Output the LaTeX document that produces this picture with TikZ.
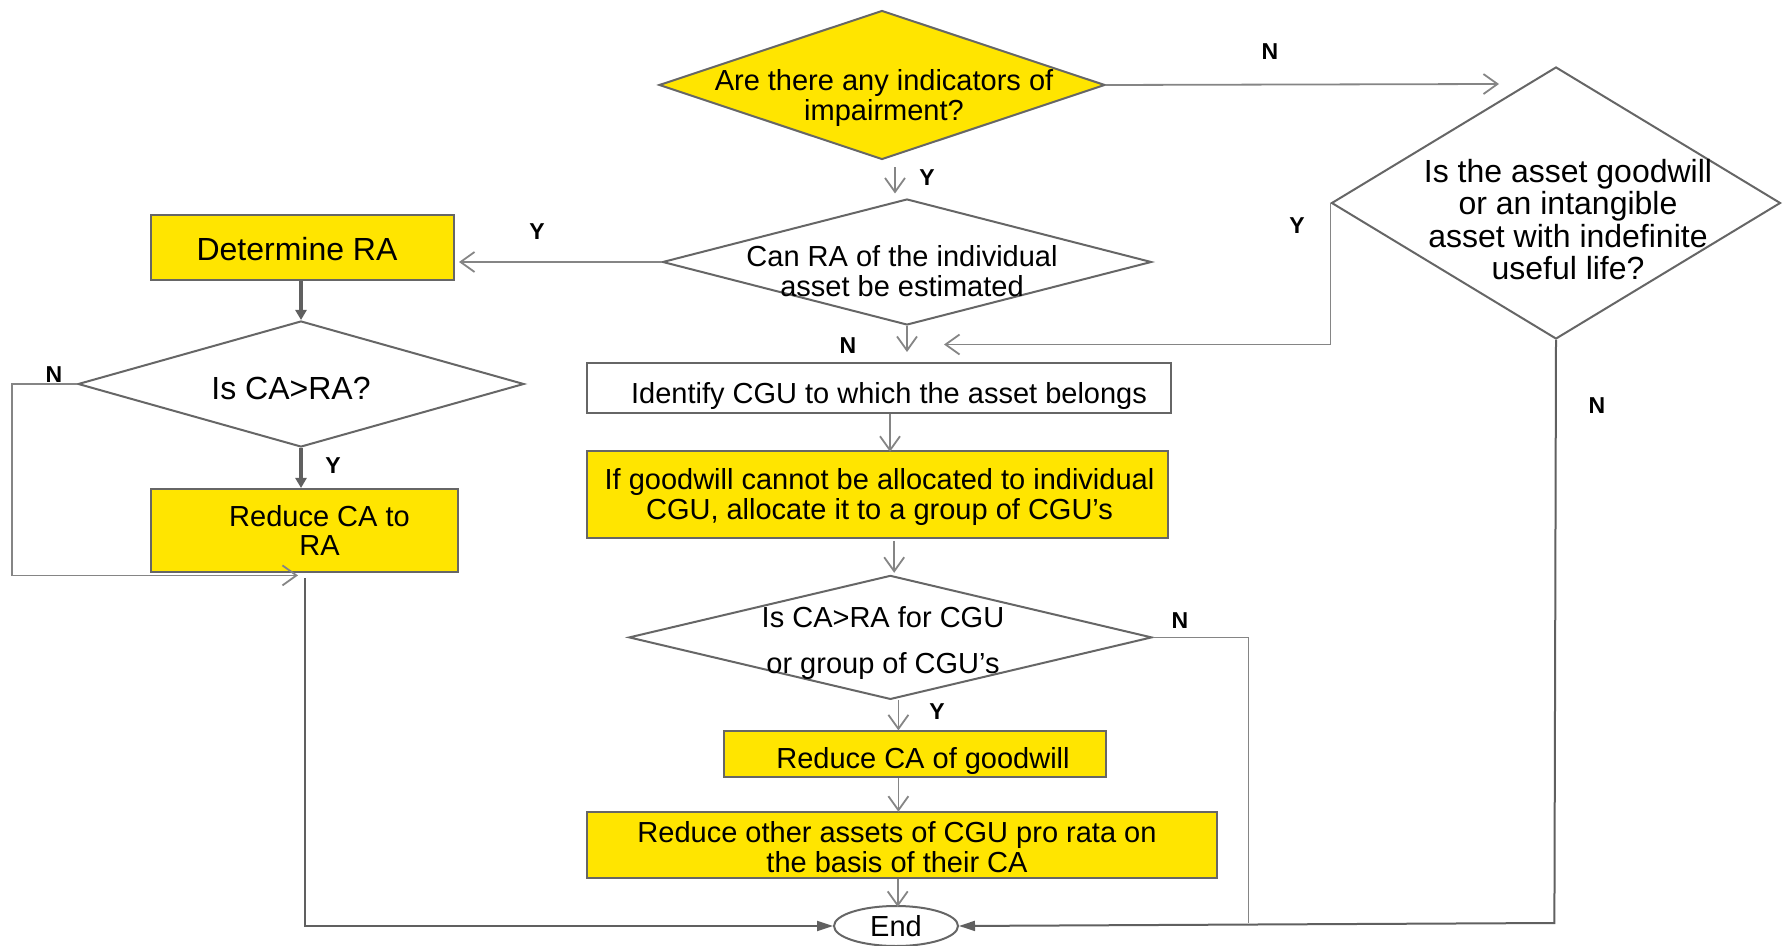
\documentclass[tikz,border=0pt]{standalone}
\usepackage{fontspec}
\setmainfont{Liberation Sans}
\usetikzlibrary{shapes.geometric,arrows.meta,calc}
\definecolor{yel}{HTML}{FFE500}
\definecolor{bord}{HTML}{666666}
\definecolor{ln}{HTML}{858585}
\definecolor{dk}{HTML}{606060}
\tikzset{
 box/.style={draw=bord, line width=1pt, inner sep=0pt, fill=white},
 ybox/.style={box, fill=yel},
 dia/.style={diamond, draw=bord, line width=1pt, inner sep=0pt, fill=white},
 txt/.style={align=center, font=\fontsize{14.5}{14.8}\selectfont, inner sep=0pt},
 btxt/.style={align=center, font=\fontsize{16}{16.3}\selectfont, inner sep=0pt},
 lab/.style={font=\fontsize{11.5}{13}\selectfont\bfseries, inner sep=0pt},
 conn/.style={draw=ln, line width=0.9pt},
 oarrow/.style={conn, -{Straight Barb[length=7pt,width=10pt]}},
 farrow/.style={draw=dk, line width=1pt, -{Triangle[length=8pt,width=5pt]}},
 tarrow/.style={draw=dk, line width=1.6pt, -{Triangle[length=5pt,width=5.5pt]}},
}
\begin{document}
\begin{tikzpicture}[x=0.5pt,y=-0.5pt]
\useasboundingbox (0,0) rectangle (1783,946);

% shapes
\node[dia, fill=yel, minimum width=223pt, minimum height=74.5pt] (d1) at (882,85) {};
\node[txt] (t1) at (884,98) {Are there any indicators of\\impairment?};

\node[dia, minimum width=244.5pt, minimum height=63pt] (d2) at (907,262) {};
\node[txt] (t2) at (902,271) {Can RA of the individual\\asset be estimated};

\node[ybox, minimum width=151.5pt, minimum height=32.5pt] (ra) at (302.5,247.5) {};
\node[btxt] (tra) at (297,249) {Determine RA};

\node[dia, minimum width=223pt, minimum height=63pt] (d3) at (301,384) {};
\node[btxt] (t3) at (291,388) {Is CA>RA?};

\node[ybox, minimum width=153.5pt, minimum height=41.5pt] (red) at (304.5,530.5) {};
\node[align=center, font=\fontsize{14.5}{14.2}\selectfont, inner sep=0pt] (tred) at (319.5,530.5) {Reduce CA to\\RA};

\node[dia, minimum width=224.5pt, minimum height=136pt] (d4) at (1556,203) {};
\node[btxt] (t4) at (1568,219.5) {Is the asset goodwill\\or an intangible\\asset with indefinite\\useful life?};

\node[box, minimum width=292.25pt, minimum height=25pt] (id) at (879,387.8) {};
\node[txt] (tid) at (889,395.7) {Identify CGU to which the asset belongs};

\node[ybox, minimum width=290.5pt, minimum height=43.2pt] (ifb) at (877.2,494.6) {};
\node[txt] (tif) at (879.5,497) {If goodwill cannot be allocated to individual\\CGU, allocate it to a group of CGU’s};

\node[dia, minimum width=261.5pt, minimum height=62pt] (d5) at (890.4,637.4) {};
\node[align=center, font=\fontsize{14.5}{23.3}\selectfont, inner sep=0pt] (t5) at (883,643) {Is CA>RA for CGU\\or group of CGU’s};

\node[ybox, minimum width=191pt, minimum height=22.75pt] (gw) at (915.4,754) {};
\node[txt] (tgw) at (923,760.5) {Reduce CA of goodwill};

\node[ybox, minimum width=315pt, minimum height=33pt] (oth) at (901.7,844.9) {};
\node[txt] (toth) at (897,847) {Reduce other assets of CGU pro rata on\\the basis of their CA};

\node[ellipse, draw=bord, line width=1pt, fill=white, minimum width=62pt, minimum height=20pt, inner sep=0pt, font=\fontsize{14.5}{14.8}\selectfont] (end) at (896,926) {End};

% free ends
\coordinate (c1) at (1499,84);
\coordinate (nl) at (298,575.4);
\coordinate (cy) at (944,344.5);
\coordinate (j) at (1248.5,923);
\coordinate (cd) at (1554.4,923);

% connectors
\draw[oarrow] (d1.east) -- (c1);
\draw[oarrow] ($(d1.south)+(13,7)$) -- ++(0,26);
\draw[oarrow] (d2.west) -- ($(d2.west -| ra.east)+(4,0)$);
\draw[tarrow] (ra.south -| d3.north) -- (d3.north);
\draw[oarrow] (d3.west) -- ++(-65,0) |- (nl);
\draw[tarrow] (d3.south) -- (d3.south |- red.north);
\draw[farrow] ($(red.south)+(0,5)$) |- (end.west);
\draw[oarrow] (d2.south) -- ++(0,26);
\draw[oarrow] (d4.west) |- (cy);
\draw[oarrow] ($(id.south)+(11,0)$) -- ++(0,38);
\draw[oarrow] ($(ifb.south)+(17,2)$) -- ++(0,32);
\draw[conn] (d5.east) -| (j);
\draw[oarrow] ($(d5.south)+(8,0)$) -- ++(0,30);
\draw[oarrow] ($(gw.south)+(-17,0)$) -- ++(0,34);
\draw[oarrow] ($(oth.south)+(-4,0)$) -- ++(0,28);
\draw[farrow] (d4.south) -- (cd) -- (end.east);

% labels
\node[lab] (l1) at (1270,52) {N};
\node[lab] (l2) at (927,178) {Y};
\node[lab] (l3) at (537,232) {Y};
\node[lab] (l4) at (54,375) {N};
\node[lab] (l5) at (333,466) {Y};
\node[lab] (l6) at (848,346) {N};
\node[lab] (l7) at (1297,226) {Y};
\node[lab] (l8) at (1180,621) {N};
\node[lab] (l9) at (937,712) {Y};
\node[lab] (l10) at (1597,406) {N};
\end{tikzpicture}
\end{document}
